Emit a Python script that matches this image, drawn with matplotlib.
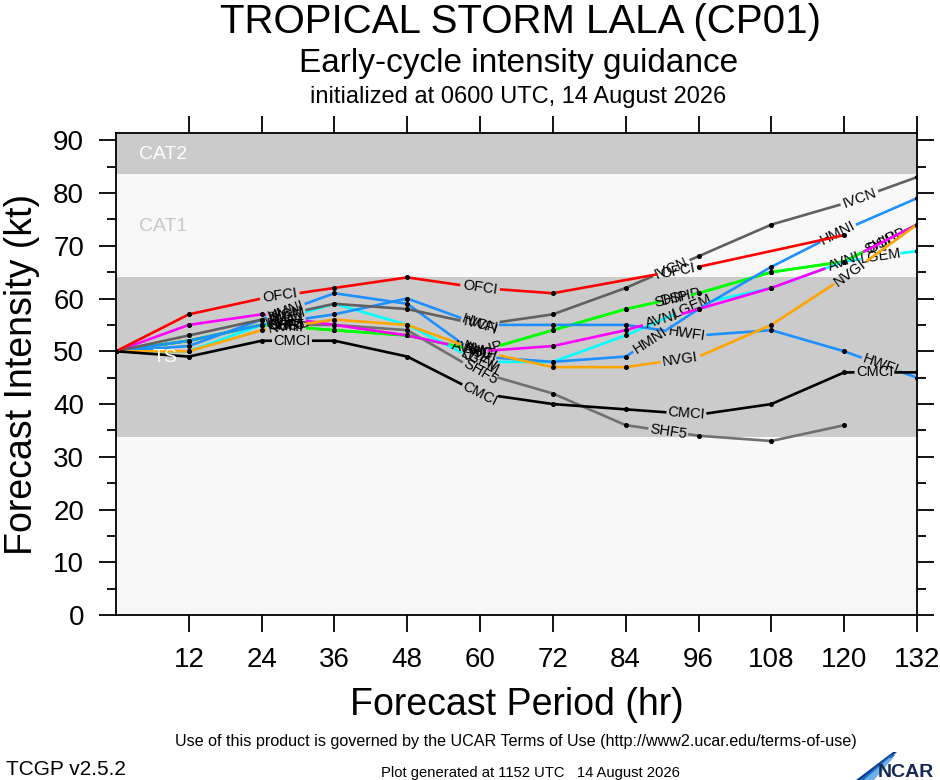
import numpy as np
import matplotlib
matplotlib.use('Agg')
import matplotlib.pyplot as plt
from matplotlib.patches import Polygon

# forecast hours and intensity (kt) per model, None = no value
hours = [0, 12, 24, 36, 48, 60, 72, 84, 96, 108, 120, 132]
shf5 = [50, 52, 55, 55, 54, 46, 42, 36, 34, 33, 36, None]
dshp = [50, 52, 55, 54, 53, 50, 54, 58, 61, 65, 67, 74]
ship = [50, 52, 55, 54, 53, 50, 54, 58, 61, 65, 67, 74]
lgem = [50, 50, 55, 59, 55, 48, 48, 53, 59, 62, 67, 69]
hwfi = [50, 52, 55, 57, 60, 55, 55, 55, 53, 54, 50, 45]
hmni = [50, 51, 56, 61, 59, 49, 48, 49, 58, 66, 73, 79]
avni = [50, 55, 57, 55, 53, 50, 51, 54, 58, 62, 67, 74]
nvgi = [50, 50, 54, 56, 55, 50, 47, 47, 49, 55, 64, 74]
ivcn = [50, 53, 56, 59, 58, 55, 57, 62, 68, 74, 78, 83]
cmci = [50, 49, 52, 52, 49, 42, 40, 39, 38, 40, 46, 46]
ofci = [50, 57, 60, 62, 64, 62, 61, None, 66, None, 72, None]

model_names = ['SHF5', 'DSHP', 'SHIP', 'LGEM', 'HWFI', 'HMNI', 'AVNI', 'NVGI', 'IVCN', 'CMCI', 'OFCI']
model_values = [shf5, dshp, ship, lgem, hwfi, hmni, avni, nvgi, ivcn, cmci, ofci]
model_colors = ['#707070', '#00ff00', '#00ff00', '#00ffff', '#1e90ff', '#1e90ff',
                '#ff00ff', '#ffa500', '#606060', '#000000', '#ff0000']
# where along each track the name is written (hr)
label_hours = [[28, 60, 91], [28.5, 60.5, 93, 127], [28, 60, 91.5, 126], [28, 60, 95, 126],
               [28, 60, 94, 126], [28, 60, 88, 119], [28, 58, 90, 120], [28, 60, 93, 121],
               [28, 60, 91.5, 122.5], [29, 60, 94, 125], [27, 60, 92.5]]

# intensity bands
band_edges = [0, 33.8, 64, 83.5, 100]
band_colors = ['#f8f8f8', '#cbcbcb', '#f8f8f8', '#cbcbcb']

fig = plt.figure(figsize=(9.4, 7.8), dpi=100)
plt.rcParams['font.family'] = ['Liberation Sans', 'DejaVu Sans']

W, H = 940, 780
left, right, top, bottom = 116, 917, 133.3, 615.2
ax = fig.add_axes([left / W, 1 - bottom / H, (right - left) / W, (bottom - top) / H])
ax.set_xlim(0, 132)
ax.set_ylim(0, 91.3)
sx = (right - left) / 132.0
sy = (bottom - top) / 91.3

for lo, hi, c in zip(band_edges[:-1], band_edges[1:], band_colors):
    ax.axhspan(lo, hi, color=c, zorder=0, lw=0)
ax.text(3.8, 87.2, 'CAT2', color='white', fontsize=14, va='center', zorder=1)
ax.text(3.8, 73.7, 'CAT1', color='#c8c8c8', fontsize=14, va='center', zorder=1)
ax.text(8.1, 48.9, 'TS', color='white', fontsize=14, ha='center', va='center', zorder=10)

for i, (name, vals, col, lhrs) in enumerate(zip(model_names, model_values, model_colors, label_hours)):
    t = np.array([h for h, v in zip(hours, vals) if v is not None], dtype=float)
    v = np.array([v for v in vals if v is not None], dtype=float)
    z = 2 + i * 0.1
    gaps = []
    for tl in lhrs:
        if tl > t[-1]:
            continue
        k = int(np.clip(np.searchsorted(t, tl), 1, len(t) - 1))
        dv = (v[k] - v[k - 1]) / (t[k] - t[k - 1])
        ang = np.degrees(np.arctan2(dv * sy, sx))
        vl = np.interp(tl, t, v)
        half = (len(name) * 8.5 / 2 + 3) / np.hypot(sx, dv * sy)
        gaps.append((tl - half, tl + half))
        ax.text(tl, vl, name, rotation=ang, rotation_mode='anchor', ha='center', va='center',
                fontsize=10.5, color='black', zorder=z + 0.05)
    # line broken where the labels sit
    bp = sorted(set(list(t) + [g for gp in gaps for g in gp if t[0] <= g <= t[-1]]))
    xs, ys = [], []
    for a, b in zip(bp[:-1], bp[1:]):
        m = (a + b) / 2
        if any(g0 < m < g1 for g0, g1 in gaps):
            xs.append(np.nan)
            ys.append(np.nan)
        else:
            xs += [a, b]
            ys += [np.interp(a, t, v), np.interp(b, t, v)]
    ax.plot(xs, ys, color=col, lw=1.9, zorder=z, solid_capstyle='butt')
    keep = [j for j in range(len(t)) if not any(g0 < t[j] < g1 for g0, g1 in gaps)]
    ax.plot(t[keep], v[keep], 'o', color='black', ms=2.6, zorder=z + 0.02)

ax.set_xticks(range(12, 133, 12))
ax.set_yticks(range(0, 91, 10))
ax.set_yticks(range(5, 91, 10), minor=True)
ax.tick_params(axis='both', which='major', direction='out', length=12, width=1.3,
               labelsize=20, pad=11)
ax.tick_params(axis='y', which='minor', direction='out', length=6.5, width=1.3)
ax.tick_params(top=True, right=True, which='both')
ax.tick_params(axis='x', which='minor', top=False, bottom=False)
for s in ax.spines.values():
    s.set_linewidth(1.3)

ax.set_ylabel('Forecast Intensity (kt)', fontsize=27)
ax.yaxis.set_label_coords(-0.095, 0.5)
ax.set_xlabel('Forecast Period (hr)', fontsize=27)
ax.xaxis.set_label_coords(0.5, -0.148)

fig.text(520 / W, 1 - 33 / H, 'TROPICAL STORM LALA (CP01)', fontsize=29, ha='center', va='baseline')
fig.text(519 / W, 1 - 72 / H, 'Early-cycle intensity guidance', fontsize=24, ha='center', va='baseline')
fig.text(518 / W, 1 - 103 / H, 'initialized at 0600 UTC, 14 August 2026', fontsize=17, ha='center', va='baseline')

fig.text(516 / W, 1 - 746 / H, 'Use of this product is governed by the UCAR Terms of Use (http://www2.ucar.edu/terms-of-use)',
         fontsize=11.6, ha='center', va='baseline')
fig.text(6 / W, 1 - 775 / H, 'TCGP v2.5.2', fontsize=15, ha='left', va='baseline')
fig.text(530 / W, 1 - 777 / H, 'Plot generated at 1152 UTC   14 August 2026', fontsize=10.6,
         ha='center', va='baseline')

# NCAR logo
for k, c in enumerate(['#0a3d8f', '#1f6fc4', '#6fb0e8']):
    pts = [(856 + k * 4, 780), (893 - k * 2, 752 + k * 3), (897 - k * 2, 752 + k * 3), (866 + k * 4, 780)]
    fig.patches.append(Polygon([(x / W, 1 - y / H) for x, y in pts], closed=True,
                               transform=fig.transFigure, color=c, lw=0))
fig.text(934 / W, 1 - 777 / H, 'NCAR', fontsize=14, fontweight='bold', color='#142a55',
         ha='right', va='baseline')

fig.savefig('out.png', dpi=100, facecolor='white')
